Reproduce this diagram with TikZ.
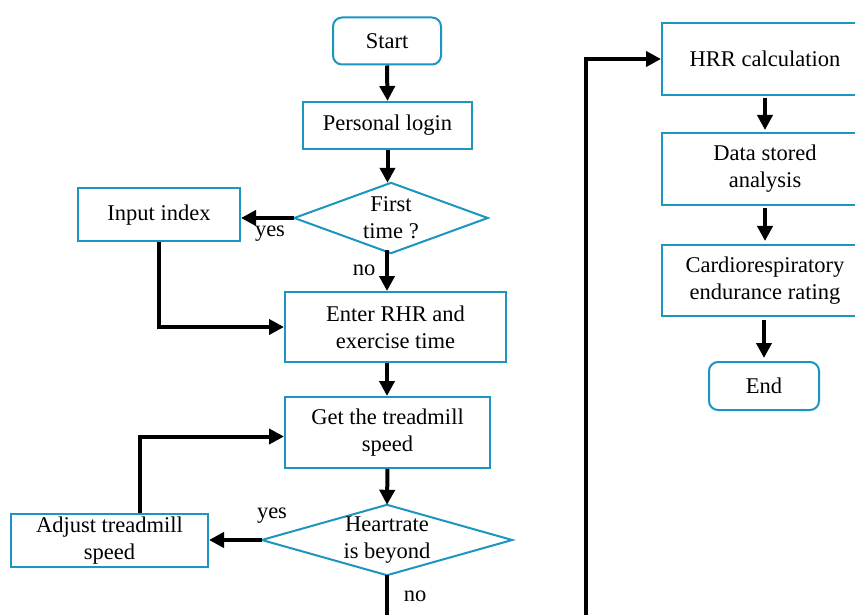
\documentclass[tikz,border=0pt]{standalone}
\usepackage{fontspec}
\setmainfont{Liberation Serif}
\usetikzlibrary{arrows.meta,calc}
\definecolor{boxblue}{RGB}{28,150,192}
\tikzset{
  box/.style={draw=boxblue,line width=2pt,fill=white,align=center,inner sep=2pt,font=\fontsize{22.5}{27}\selectfont},
  rbox/.style={box,rounded corners=9pt},
  dectext/.style={draw=none,align=center,inner sep=0pt,font=\fontsize{22.5}{27}\selectfont},
  decline/.style={draw=boxblue,line width=2pt,fill=white},
  flow/.style={line width=4pt,-{Triangle[length=15pt,width=15pt]}},
  plain/.style={line width=4pt},
  lbl/.style={font=\fontsize{22.5}{26}\selectfont,inner sep=0pt}
}
\begin{document}
\begin{tikzpicture}[x=1pt,y=-1pt]
\useasboundingbox (0,0) rectangle (855,615);
\clip (0,0) rectangle (855,615);
\fill[white] (0,0) rectangle (855,615);
% left column
\node[rbox,minimum width=108pt,minimum height=47pt] (start) at (387,41) {Start};
\node[box,minimum width=169pt,minimum height=47pt] (login) at (387.5,125.5) {Personal login};
\node[dectext,minimum width=193pt,minimum height=70pt] (first) at (391,218) {};
\draw[decline] (first.west) -- (first.north) -- (first.east) -- (first.south) -- cycle;
\node[dectext] at (first.center) {First\\time ?};
\node[box,minimum width=162pt,minimum height=53pt] (input) at (159,215) {Input index};
\node[box,minimum width=221pt,minimum height=70pt] (enter) at (395.5,327) {Enter RHR and\\exercise time};
\node[box,minimum width=205pt,minimum height=71pt] (get) at (387.5,432.5) {Get the treadmill\\speed};
\node[dectext,minimum width=250pt,minimum height=70pt] (heart) at (387,540) {};
\draw[decline] (heart.west) -- (heart.north) -- (heart.east) -- (heart.south) -- cycle;
\node[dectext] at (heart.center) {Heartrate\\is beyond};
\node[box,minimum width=197pt,minimum height=53pt] (adjust) at (109.5,540.5) {Adjust treadmill\\speed};
% right column
\node[box,minimum width=206pt,minimum height=72pt] (hrr) at (765,59) {HRR calculation};
\node[box,minimum width=206pt,minimum height=72pt] (data) at (765,169) {Data stored\\analysis};
\node[box,minimum width=206pt,minimum height=71pt] (cardio) at (765,280.5) {Cardiorespiratory\\endurance rating};
\node[rbox,minimum width=110pt,minimum height=48pt] (end) at (764,386) {End};
% helper coordinates
\coordinate (lb) at (387,650);
\coordinate (rb) at (586,650);
% connectors
\draw[flow] (start.south) -- (login.north);
\draw[flow] (login.south) -- (login.south |- first.north);
\draw[flow] (first.west) -- (first.west -| input.east);
\node[lbl] at (270,234) {yes};
\draw[flow] ([yshift=3pt]first.south -| 387,0) -- (387,0 |- enter.north);
\node[lbl] at (364,270) {no};
\draw[flow] (input.south) |- (enter.west);
\draw[flow] (387,0 |- enter.south) -- (387,0 |- get.north);
\draw[flow] (get.south) -- (heart.north);
\draw[flow] (heart.west) -- (heart.west -| adjust.east);
\node[lbl] at (272,516) {yes};
\draw[flow] ([xshift=30pt]adjust.north) |- ([yshift=-4pt]get.west);
\draw[plain] (heart.south) -- (lb) -- (rb);
\draw[flow] (rb) |- (hrr.west);
\node[lbl] at (415,596) {no};
\draw[flow,shorten <=2pt,shorten >=2pt] (hrr.south) -- (data.north);
\draw[flow,shorten <=2pt,shorten >=3pt] (data.south) -- (cardio.north);
\draw[flow,shorten <=3pt,shorten >=3pt] (cardio.south -| end.north) -- (end.north);
\end{tikzpicture}
\end{document}
